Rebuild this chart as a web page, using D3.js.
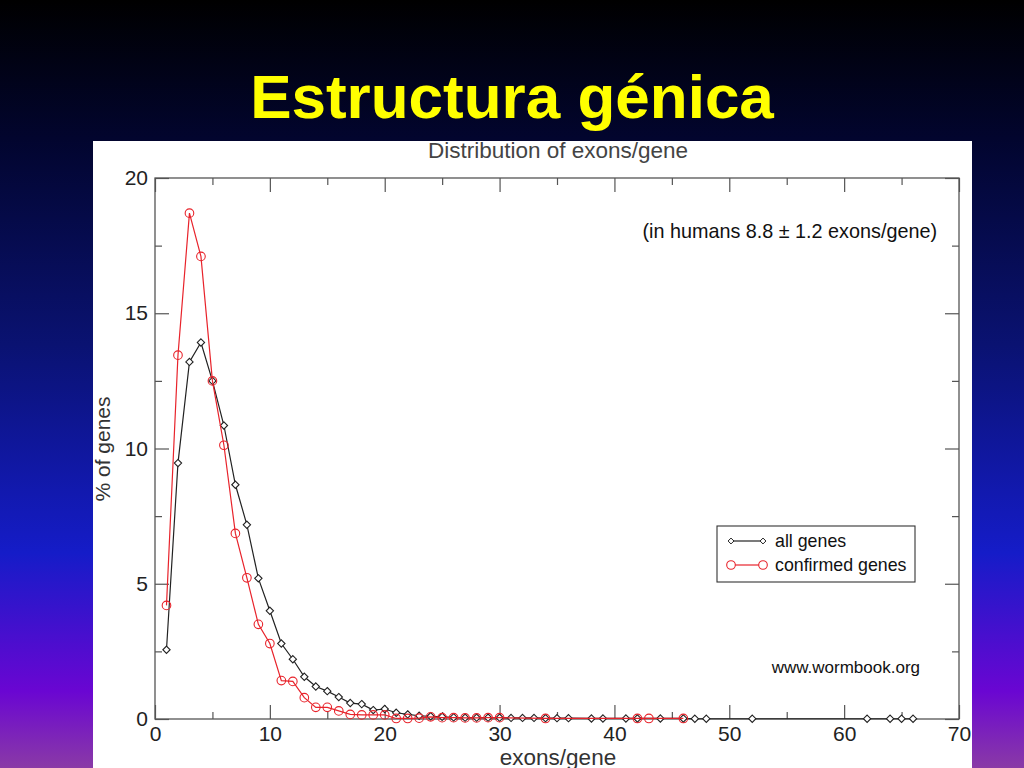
<!DOCTYPE html>
<html>
<head>
<meta charset="utf-8">
<script src="https://cdn.jsdelivr.net/npm/d3@7"></script>
<style>
  html, body { margin: 0; padding: 0; width: 1024px; height: 768px; overflow: hidden; }
  svg { display: block; }
</style>
</head>
<body>
<svg id="c" width="1024" height="768"></svg>
<script>
// ---- data ----
const allGenesX = [1,2,3,4,5,6,7,8,9,10,11,12,13,14,15,16,17,18,19,20,21,22,23,24,25,26,27,28,29,30,31,32,33,34,35,36,38,39,41,42,44,46,47,48,52,62,64,65,66];
const allGenesY = [2.56,9.46,13.2,13.92,12.5,10.85,8.66,7.18,5.2,4.0,2.79,2.21,1.56,1.2,1.03,0.81,0.59,0.55,0.33,0.37,0.23,0.17,0.12,0.1,0.08,0.06,0.05,0.05,0.05,0.05,0.04,0.04,0.04,0.03,0.03,0.03,0.02,0.02,0.02,0.02,0.02,0.02,0.01,0.01,0.01,0.01,0.01,0.01,0.01];
const confirmedX = [1,2,3,4,5,6,7,8,9,10,11,12,13,14,15,16,17,18,19,20,21,22,23,24,25,26,27,28,29,30,34,42,43,46];
const confirmedY = [4.2,13.45,18.7,17.1,12.5,10.12,6.86,5.22,3.5,2.79,1.42,1.39,0.79,0.43,0.43,0.3,0.17,0.15,0.15,0.15,0.02,0.02,0.03,0.08,0.05,0.05,0.04,0.04,0.05,0.05,0.02,0.02,0.02,0.02];
const seriesNames = ["all genes", "confirmed genes"];
const xMajorTicks = [0,10,20,30,40,50,60,70];
const xMinorTicks = [5,15,25,35,45,55,65];
const yMajorTicks = [0,5,10,15,20];
const yMinorTicks = [2.5,7.5,12.5,17.5];
const slideTitle = "Estructura génica";
const chartTitle = "Distribution of exons/gene";
const xLabel = "exons/gene";
const yLabel = "% of genes";
const noteText = "(in humans 8.8 ± 1.2 exons/gene)";
const sourceText = "www.wormbook.org";

const svg = d3.select("#c");
const FONT = "'Liberation Sans', Arial, Helvetica, sans-serif";

// background gradient
const defs = svg.append("defs");
const grad = defs.append("linearGradient").attr("id","bg").attr("x1",0).attr("y1",0).attr("x2",0).attr("y2",1);
[[0,"#000000"],[0.18,"#02052e"],[0.45,"#0a1272"],[0.72,"#151cc8"],[0.9,"#6a06d2"],[1,"#8a3aa6"]].forEach(([o,c]) =>
  grad.append("stop").attr("offset",o).attr("stop-color",c));
svg.append("rect").attr("width",1024).attr("height",768).attr("fill","url(#bg)");

// slide title
svg.append("text").attr("x",512).attr("y",118).attr("text-anchor","middle")
  .attr("font-family",FONT).attr("font-weight","bold").attr("font-size",62)
  .attr("fill","#ffff00").text(slideTitle);

// white panel
const panel = {x:93, y:141, w:879, h:627};
defs.append("clipPath").attr("id","pclip").append("rect")
  .attr("x",panel.x).attr("y",panel.y).attr("width",panel.w).attr("height",panel.h);
svg.append("rect").attr("x",panel.x).attr("y",panel.y).attr("width",panel.w).attr("height",panel.h).attr("fill","#ffffff");
const g = svg.append("g").attr("clip-path","url(#pclip)");

const L = 155, R = 959, T = 178, B = 719;
const x = d3.scaleLinear().domain([0,70]).range([L,R]);
const y = d3.scaleLinear().domain([0,20]).range([B,T]);
const axisColor = "#555";

function styleAxis(sel){
  sel.select(".domain").remove();
  sel.selectAll("line").attr("stroke",axisColor).attr("stroke-width",1.2);
  sel.selectAll("text").attr("font-family",FONT).attr("font-size",21).attr("fill","#222");
}
// bottom
g.append("g").attr("transform",`translate(0,${B})`)
  .call(d3.axisBottom(x).tickValues(xMajorTicks).tickSize(-14).tickPadding(7).tickFormat(d3.format("d"))).call(styleAxis);
g.append("g").attr("transform",`translate(0,${B})`)
  .call(d3.axisBottom(x).tickValues(xMinorTicks).tickSize(-7).tickFormat("")).call(styleAxis);
// top
g.append("g").attr("transform",`translate(0,${T})`)
  .call(d3.axisTop(x).tickValues(xMajorTicks).tickSize(-14).tickFormat("")).call(styleAxis);
g.append("g").attr("transform",`translate(0,${T})`)
  .call(d3.axisTop(x).tickValues(xMinorTicks).tickSize(-7).tickFormat("")).call(styleAxis);
// left
g.append("g").attr("transform",`translate(${L},0)`)
  .call(d3.axisLeft(y).tickValues(yMajorTicks).tickSize(-14).tickPadding(7).tickFormat(d3.format("d"))).call(styleAxis);
g.append("g").attr("transform",`translate(${L},0)`)
  .call(d3.axisLeft(y).tickValues(yMinorTicks).tickSize(-7).tickFormat("")).call(styleAxis);
// right
g.append("g").attr("transform",`translate(${R},0)`)
  .call(d3.axisRight(y).tickValues(yMajorTicks).tickSize(-14).tickFormat("")).call(styleAxis);
g.append("g").attr("transform",`translate(${R},0)`)
  .call(d3.axisRight(y).tickValues(yMinorTicks).tickSize(-7).tickFormat("")).call(styleAxis);

// frame
g.append("rect").attr("x",L).attr("y",T).attr("width",R-L).attr("height",B-T)
  .attr("fill","none").attr("stroke",axisColor).attr("stroke-width",1.3);

// titles / labels
g.append("text").attr("x",558).attr("y",158).attr("text-anchor","middle")
  .attr("font-family",FONT).attr("font-size",22.5).attr("fill","#444").text(chartTitle);
g.append("text").attr("x",558).attr("y",765).attr("text-anchor","middle")
  .attr("font-family",FONT).attr("font-size",22.5).attr("fill","#333").text(xLabel);
g.append("text").attr("transform","translate(110,449) rotate(-90)").attr("text-anchor","middle")
  .attr("font-family",FONT).attr("font-size",21).attr("fill","#333").text(yLabel);
g.append("text").attr("x",937).attr("y",238).attr("text-anchor","end")
  .attr("font-family",FONT).attr("font-size",19.8).attr("fill","#111").text(noteText);
g.append("text").attr("x",920).attr("y",673).attr("text-anchor","end")
  .attr("font-family",FONT).attr("font-size",17).attr("fill","#111").text(sourceText);

// series
const allData = allGenesX.map((d,i)=>({x:d, y:allGenesY[i]}));
const confData = confirmedX.map((d,i)=>({x:d, y:confirmedY[i]}));
const line = d3.line().x(d=>x(d.x)).y(d=>y(d.y));
const black = "#222222", red = "#e8232b";
const diamond = d3.symbol().type(d3.symbolDiamond2 || d3.symbolDiamond).size(34);

g.append("path").datum(allData).attr("d",line).attr("fill","none").attr("stroke",black).attr("stroke-width",1.2);
g.append("g").selectAll("path").data(allData).join("path")
  .attr("transform",d=>`translate(${x(d.x)},${y(d.y)})`).attr("d",diamond)
  .attr("fill","#fff").attr("stroke",black).attr("stroke-width",1.1);

g.append("path").datum(confData).attr("d",line).attr("fill","none").attr("stroke",red).attr("stroke-width",1.2);
g.append("g").selectAll("circle").data(confData).join("circle")
  .attr("cx",d=>x(d.x)).attr("cy",d=>y(d.y)).attr("r",4.3)
  .attr("fill","none").attr("stroke",red).attr("stroke-width",1.1);

// legend
const lg = g.append("g");
lg.append("rect").attr("x",717).attr("y",526).attr("width",198).attr("height",56)
  .attr("fill","#fff").attr("stroke","#333").attr("stroke-width",1.1);
const legendRows = [{name:seriesNames[0], color:black, type:"d", yy:541},{name:seriesNames[1], color:red, type:"c", yy:565}];
legendRows.forEach(r=>{
  lg.append("line").attr("x1",731).attr("x2",763).attr("y1",r.yy).attr("y2",r.yy).attr("stroke",r.color).attr("stroke-width",1.2);
  [731,763].forEach(px=>{
    if(r.type==="d"){
      lg.append("path").attr("transform",`translate(${px},${r.yy})`).attr("d",d3.symbol().type(d3.symbolDiamond2 || d3.symbolDiamond).size(22))
        .attr("fill","#fff").attr("stroke",r.color).attr("stroke-width",1);
    } else {
      lg.append("circle").attr("cx",px).attr("cy",r.yy).attr("r",4.3).attr("fill","#fff").attr("stroke",r.color).attr("stroke-width",1.1);
    }
  });
  lg.append("text").attr("x",775).attr("y",r.yy+6).attr("font-family",FONT).attr("font-size",17.8).attr("fill","#111").text(r.name);
});
</script>
</body>
</html>
